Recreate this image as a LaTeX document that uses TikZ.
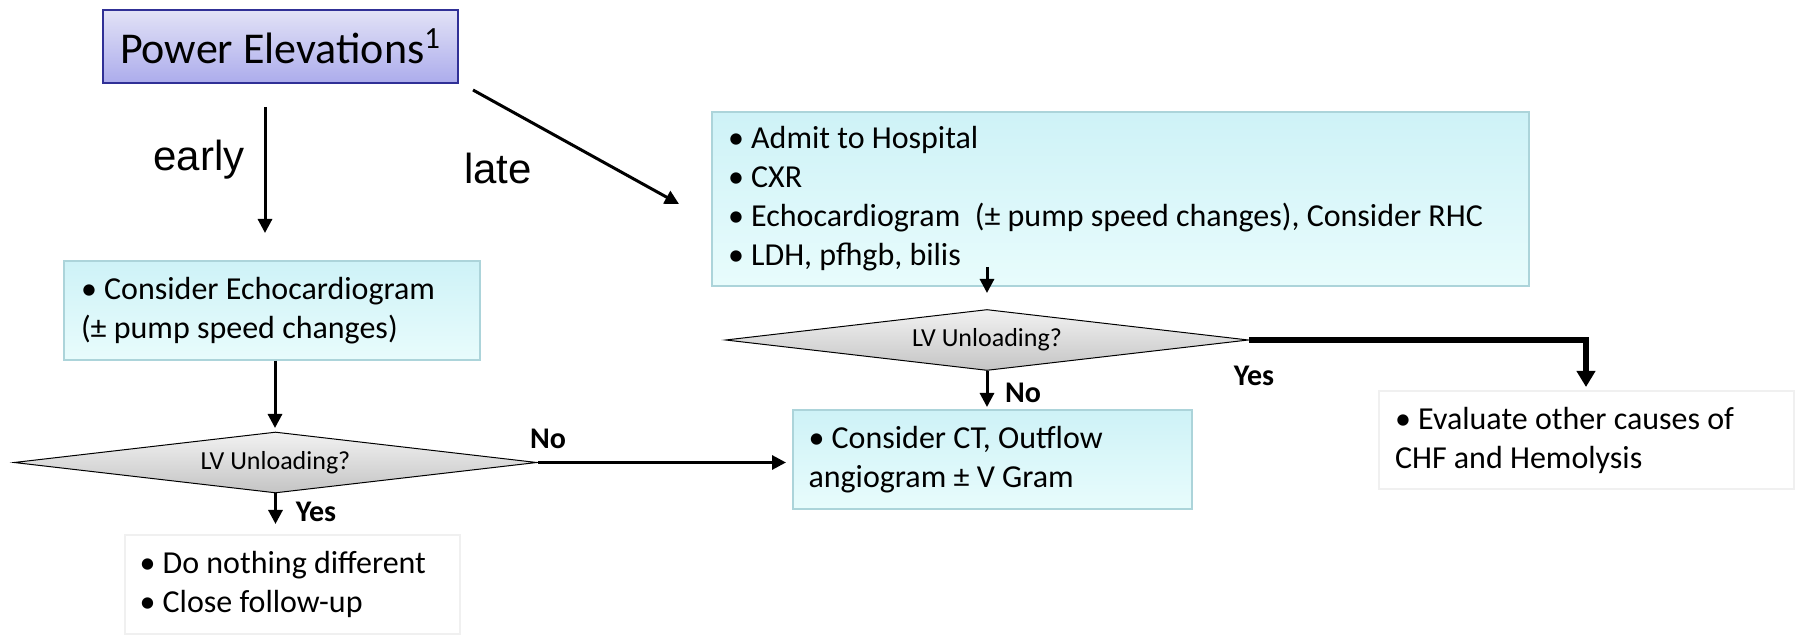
\documentclass[tikz,border=0pt]{standalone}
\usepackage{fontspec}
\setmainfont{Carlito}
\newfontfamily\arialfont{Liberation Sans}
\usetikzlibrary{shapes.geometric,arrows.meta}

\definecolor{tituloTop}{RGB}{226,226,246}
\definecolor{tituloBot}{RGB}{172,172,236}
\definecolor{tituloBorda}{RGB}{48,48,150}
\definecolor{caixaTop}{RGB}{206,242,247}
\definecolor{caixaBot}{RGB}{232,252,252}
\definecolor{caixaBorda}{RGB}{172,212,218}
\definecolor{losTop}{RGB}{242,242,242}
\definecolor{losBot}{RGB}{196,196,196}
\newcommand{\bul}{\textbullet\ }

\begin{document}
\begin{tikzpicture}[x=0.5pt, y=-0.5pt,
  seta/.style={line width=1.5pt, -{Triangle[width=7pt,length=7pt]}},
  setag/.style={line width=3pt, -{Triangle[width=9pt,length=8pt]}},
  caixa/.style={draw=caixaBorda, line width=0.6pt, top color=caixaTop, bottom color=caixaBot,
    inner xsep=0pt, inner ysep=0pt, align=flush left, font=\fontsize{16}{19.5}\selectfont},
  branca/.style={caixa, draw=gray!12, top color=white, bottom color=white},
  losango/.style={diamond, aspect=8.57, draw, line width=0.5pt, top color=losTop, bottom color=losBot,
    inner sep=0pt, minimum width=261.5pt, minimum height=30.5pt, font=\fontsize{13}{15}\selectfont},
  rot/.style={font=\bfseries\fontsize{15}{17}\selectfont}]

\useasboundingbox (0,0) rectangle (1796,636);

% Inicio
\node[draw=tituloBorda, line width=0.8pt, top color=tituloTop, bottom color=tituloBot,
  minimum width=177.5pt, minimum height=36.5pt, inner sep=0pt,
  font=\fontsize{22}{26}\selectfont] (P) at (280.5,46.5) {Power Elevations\textsuperscript{1}};

\coordinate (E0) at (265,107);
\coordinate (E1) at (265,233);
\coordinate (L0) at (473,90);
\coordinate (L1) at (679,204);
\draw[seta] (E0) -- (E1);
\draw[seta] (L0) -- (L1);
\node[font=\arialfont\fontsize{21}{24}\selectfont] (early) at (199,160) {early};
\node[font=\arialfont\fontsize{21}{24}\selectfont] (late) at (498,168) {late};

% Ramo tardio
\node[caixa, minimum width=408.5pt, minimum height=87pt, text width=392.5pt] (H) at (1120.5,199)
  {\bul Admit to Hospital\\
   \bul CXR\\
   \bul Echocardiogram~ (± pump speed changes), Consider RHC\\
   \bul LDH, pfhgb, bilis};

\node[losango] (D2) at (987,340) {LV Unloading?};
\coordinate (H1) at (987,267);
\coordinate (H2) at (987,293);
\draw[seta] (H1) -- (H2);

\node[caixa, minimum width=199.5pt, minimum height=49.5pt, text width=184pt] (CT) at (992.5,459.5)
  {\bul Consider CT, Outflow\\angiogram ± V Gram};
\node[branca, minimum width=207.5pt, minimum height=49pt, text width=191.5pt] (O) at (1586.5,440)
  {\bul Evaluate other causes of\\CHF and Hemolysis};

\coordinate (N2) at (987,407);
\coordinate (Y2) at (1586,387);
\draw[seta] (D2.south) -- (N2);
\draw[setag] (D2.east) -| (Y2);
\node[rot] (n2) at (1023,393) {No};
\node[rot] (y2) at (1254,376) {Yes};

% Ramo precoce
\node[caixa, minimum width=208pt, minimum height=49.5pt, text width=191pt] (C) at (272,310.5)
  {\bul Consider Echocardiogram\\(± pump speed changes)};
\node[losango] (D1) at (275.5,462.5) {LV Unloading?};
\node[branca, minimum width=167.5pt, minimum height=49.5pt, text width=153pt] (B) at (292.5,584.5)
  {\bul Do nothing different\\\bul Close follow-up};

\coordinate (C1) at (275,428);
\coordinate (N1) at (786,462.5);
\coordinate (Y1) at (275.5,524);
\draw[seta] (C.south -| C1) -- (C1);
\draw[seta] (D1.east) -- (N1);
\draw[seta] (D1.south) -- (Y1);
\node[rot] (n1) at (548,439) {No};
\node[rot] (y1) at (316,512) {Yes};

\end{tikzpicture}
\end{document}
